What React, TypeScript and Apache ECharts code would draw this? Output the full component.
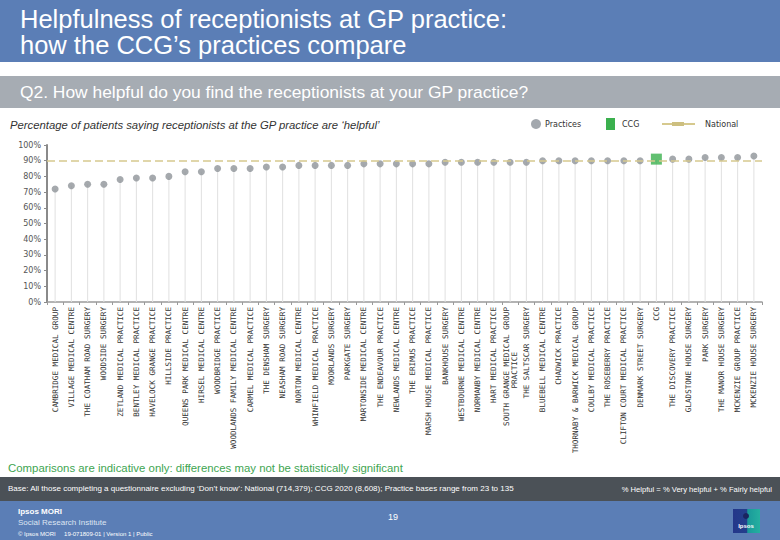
import React, { useEffect, useRef } from "react";
import * as echarts from "echarts";

const categories: string[] = [
  "CAMBRIDGE MEDICAL GROUP",
  "VILLAGE MEDICAL CENTRE",
  "THE COATHAM ROAD SURGERY",
  "WOODSIDE SURGERY",
  "ZETLAND MEDICAL PRACTICE",
  "BENTLEY MEDICAL PRACTICE",
  "HAVELOCK GRANGE PRACTICE",
  "HILLSIDE PRACTICE",
  "QUEENS PARK MEDICAL CENTRE",
  "HIRSEL MEDICAL CENTRE",
  "WOODBRIDGE PRACTICE",
  "WOODLANDS FAMILY MEDICAL CENTRE",
  "CARMEL MEDICAL PRACTICE",
  "THE DENSHAM SURGERY",
  "NEASHAM ROAD SURGERY",
  "NORTON MEDICAL CENTRE",
  "WHINFIELD MEDICAL PRACTICE",
  "MOORLANDS SURGERY",
  "PARKGATE SURGERY",
  "MARTONSIDE MEDICAL CENTRE",
  "THE ENDEAVOUR PRACTICE",
  "NEWLANDS MEDICAL CENTRE",
  "THE ERIMUS PRACTICE",
  "MARSH HOUSE MEDICAL PRACTICE",
  "BANKHOUSE SURGERY",
  "WESTBOURNE MEDICAL CENTRE",
  "NORMANBY MEDICAL CENTRE",
  "HART MEDICAL PRACTICE",
  "SOUTH GRANGE MEDICAL GROUP PRACTICE",
  "THE SALTSCAR SURGERY",
  "BLUEBELL MEDICAL CENTRE",
  "CHADWICK PRACTICE",
  "THORNABY & BARWICK MEDICAL GROUP",
  "COULBY MEDICAL PRACTICE",
  "THE ROSEBERRY PRACTICE",
  "CLIFTON COURT MEDICAL PRACTICE",
  "DENMARK STREET SURGERY",
  "CCG",
  "THE DISCOVERY PRACTICE",
  "GLADSTONE HOUSE SURGERY",
  "PARK SURGERY",
  "THE MANOR HOUSE SURGERY",
  "MCKENZIE GROUP PRACTICE",
  "MCKENZIE HOUSE SURGERY",
];

// % helpful per practice (null at the CCG slot)
const practiceValues: (number | null)[] = [
  72, 74, 75, 75, 78, 79, 79, 80, 83, 83, 85, 85, 85, 86, 86, 87, 87, 87, 87, 88,
  88, 88, 88, 88, 89, 89, 89, 89, 89, 89, 90, 90, 90, 90, 90, 90, 90, null, 91, 91,
  92, 92, 92, 93,
];

const ccgLabel = "CCG";
const ccgValue = 91;
const nationalValue = 90;

const yMin = 0;
const yMax = 100;
const yInterval = 10;

const HEADER_BLUE = "#5b7eb6";
const FONT = "'Liberation Sans', Arial, sans-serif";
const LABEL_FONT = "'DejaVu Sans Mono', monospace";

export default function App() {
  const ref = useRef<HTMLDivElement>(null);

  useEffect(() => {
    if (!ref.current) return;
    const chart = echarts.init(ref.current, null, { renderer: "svg" });
    const ccgIndex = categories.indexOf(ccgLabel);
    const practiceData = categories.map((_, i) =>
      i === ccgIndex || practiceValues[i] == null ? "-" : practiceValues[i]
    );
    const ccgData = categories.map((_, i) => (i === ccgIndex ? ccgValue : "-"));
    const dropData = categories.map((_, i) =>
      i === ccgIndex ? ccgValue : practiceValues[i]
    );

    const southGrange = "SOUTH GRANGE MEDICAL GROUP PRACTICE";

    chart.setOption({
      animation: false,
      backgroundColor: "#ffffff",
      grid: { left: 47, right: 18, top: 145, bottom: 238, containLabel: false },
      xAxis: {
        type: "category",
        data: categories,
        boundaryGap: true,
        axisLine: { show: true, lineStyle: { color: "#9a9a9a", width: 1.5 } },
        axisTick: { show: true, length: 3, lineStyle: { color: "#9a9a9a" } },
        axisLabel: {
          interval: 0,
          rotate: 90,
          margin: 5,
          fontSize: 7.6,
          fontFamily: LABEL_FONT,
          color: "#333333",
          formatter: (v: string) =>
            v === southGrange ? "SOUTH GRANGE MEDICAL GROUP\n{p|PRACTICE}" : v,
          rich: {
            p: {
              fontSize: 7.6,
              fontFamily: LABEL_FONT,
              color: "#333333",
              padding: [0, 45, 0, 0],
            },
          },
        },
        splitLine: { show: false },
      },
      yAxis: {
        type: "value",
        min: yMin,
        max: yMax,
        interval: yInterval,
        axisLine: { show: true, lineStyle: { color: "#8a8a8a", width: 2 } },
        axisTick: { show: true, length: 3, lineStyle: { color: "#8a8a8a" } },
        axisLabel: {
          formatter: "{value}%",
          fontSize: 8,
          fontFamily: "'DejaVu Sans', sans-serif",
          color: "#555555",
          margin: 6,
        },
        splitLine: { show: false },
      },
      series: [
        {
          name: "drop",
          type: "bar",
          data: dropData,
          barWidth: 1,
          z: 1,
          silent: true,
          itemStyle: { color: "#e0e0e0" },
          markLine: {
            silent: true,
            symbol: "none",
            label: { show: false },
            lineStyle: { color: "#d6c98e", type: [8, 4], width: 1.5 },
            data: [{ yAxis: nationalValue }],
          },
        },
        {
          name: "Practices",
          type: "scatter",
          data: practiceData,
          symbol: "circle",
          symbolSize: 7,
          z: 3,
          itemStyle: { color: "#8e9398" },
        },
        {
          name: "CCG",
          type: "scatter",
          data: ccgData,
          symbol: "rect",
          symbolSize: 11,
          z: 4,
          itemStyle: { color: "#3bb04e" },
        },
      ],
      graphic: [
        // header
        { type: "rect", shape: { x: 0, y: 0, width: 780, height: 62 }, style: { fill: HEADER_BLUE }, z: 0 },
        {
          type: "text", x: 20, y: 19,
          style: { text: "Helpfulness of receptionists at GP practice:", fill: "#ffffff", font: `25.5px ${FONT}`, verticalAlign: "middle" },
        },
        {
          type: "text", x: 20, y: 45,
          style: { text: "how the CCG\u2019s practices compare", fill: "#ffffff", font: `25.5px ${FONT}`, verticalAlign: "middle" },
        },
        { type: "rect", shape: { x: 0, y: 76, width: 780, height: 32 }, style: { fill: "#a6acb3" } },
        {
          type: "text", x: 20, y: 92,
          style: { text: "Q2. How helpful do you find the receptionists at your GP practice?", fill: "#ffffff", font: `17.4px ${FONT}`, verticalAlign: "middle" },
        },
        {
          type: "text", x: 10, y: 125,
          style: { text: "Percentage of patients saying receptionists at the GP practice are \u2018helpful\u2019", fill: "#333333", font: `italic 11.3px ${FONT}`, verticalAlign: "middle" },
        },
        // legend
        { type: "circle", shape: { cx: 536, cy: 124, r: 5 }, style: { fill: "#a3a8ae" } },
        { type: "text", x: 545, y: 124, style: { text: "Practices", fill: "#333333", font: `8px 'DejaVu Sans', sans-serif`, verticalAlign: "middle" } },
        { type: "rect", shape: { x: 606, y: 118, width: 9, height: 12 }, style: { fill: "#3bb04e" } },
        { type: "text", x: 622, y: 124, style: { text: "CCG", fill: "#333333", font: `8px 'DejaVu Sans', sans-serif`, verticalAlign: "middle" } },
        { type: "line", shape: { x1: 662, y1: 124, x2: 695, y2: 124 }, style: { stroke: "#d6c98e", lineWidth: 2 } },
        { type: "rect", shape: { x: 672, y: 122, width: 12, height: 4 }, style: { fill: "#cdbf80" } },
        { type: "text", x: 705, y: 124, style: { text: "National", fill: "#333333", font: `8px 'DejaVu Sans', sans-serif`, verticalAlign: "middle" } },
        // footer
        {
          type: "text", x: 8, y: 468,
          style: { text: "Comparisons are indicative only: differences may not be statistically significant", fill: "#3ea551", font: `11.4px ${FONT}`, verticalAlign: "middle" },
        },
        { type: "rect", shape: { x: 0, y: 477, width: 780, height: 24 }, style: { fill: "#4b5157" } },
        {
          type: "text", x: 8, y: 488,
          style: { text: "Base: All those completing a questionnaire excluding \u2018Don\u2019t know\u2019: National (714,379); CCG 2020 (8,608); Practice bases range from 23 to 135", fill: "#ffffff", font: `8px ${FONT}`, verticalAlign: "middle" },
        },
        {
          type: "text", x: 772, y: 489,
          style: { text: "% Helpful = % Very helpful + % Fairly helpful", fill: "#ffffff", font: `7.6px ${FONT}`, verticalAlign: "middle", align: "right" },
        },
        { type: "rect", shape: { x: 0, y: 501, width: 780, height: 39 }, style: { fill: HEADER_BLUE } },
        { type: "text", x: 18, y: 511, style: { text: "Ipsos MORI", fill: "#ffffff", font: `bold 8px ${FONT}`, verticalAlign: "middle" } },
        { type: "text", x: 18, y: 522, style: { text: "Social Research Institute", fill: "#dde5f2", font: `8px ${FONT}`, verticalAlign: "middle" } },
        { type: "text", x: 18, y: 534, style: { text: "\u00a9 Ipsos MORI     19-071809-01 | Version 1 | Public", fill: "#ffffff", font: `6px ${FONT}`, verticalAlign: "middle" } },
        { type: "text", x: 393, y: 517, style: { text: "19", fill: "#ffffff", font: `9px ${FONT}`, verticalAlign: "middle", align: "center" } },
        {
          type: "rect", shape: { x: 733, y: 509, width: 27, height: 24 },
          style: {
            fill: new echarts.graphic.LinearGradient(0, 0, 1, 0, [
              { offset: 0, color: "#24378a" },
              { offset: 0.5, color: "#233f8c" },
              { offset: 0.55, color: "#1a9a9a" },
              { offset: 1, color: "#25b0a0" },
            ]),
          },
        },
        { type: "circle", shape: { cx: 746, cy: 516, r: 3 }, style: { fill: "#1a2460" } },
        { type: "text", x: 746, y: 526, style: { text: "Ipsos", fill: "#ffffff", font: `bold 6px ${FONT}`, verticalAlign: "middle", align: "center" } },
      ],
    });

    return () => chart.dispose();
  }, []);

  return (
    <div
      ref={ref}
      style={{ position: "fixed", left: 0, top: 0, width: 780, height: 540 }}
    />
  );
}
